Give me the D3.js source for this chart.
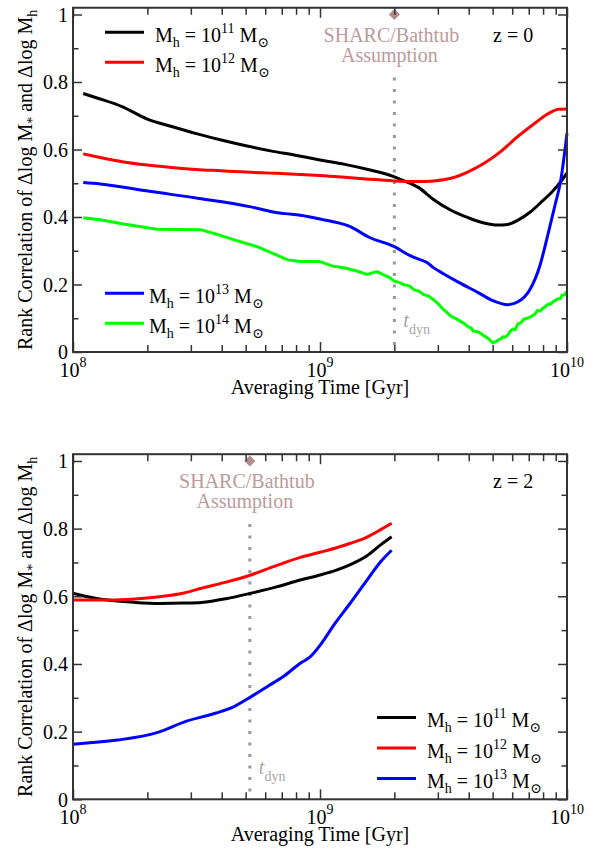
<!DOCTYPE html>
<html><head><meta charset="utf-8">
<script src="https://cdn.jsdelivr.net/npm/d3@7"></script>
<style>
body{margin:0;background:#fff}
svg{display:block}
</style>
</head><body>
<script>
// ---------------- DATA ----------------
const xTickMajor = [1e8, 1e9, 1e10];
const xTickExponents = ["8", "9", "10"];
const xTickMinor = [2e8,3e8,4e8,5e8,6e8,7e8,8e8,9e8,2e9,3e9,4e9,5e9,6e9,7e9,8e9,9e9];
const yTickMajor = [0, 0.2, 0.4, 0.6, 0.8, 1];
const yTickLabels = ["0", "0.2", "0.4", "0.6", "0.8", "1"];
const yTickMinor = [0.1, 0.3, 0.5, 0.7, 0.9];

const haloExponents = ["11", "12", "13", "14"];
const seriesColors = ["#000000", "#ff0000", "#0000ff", "#00ff00"];

// z = 0 : [averaging time (yr), rank correlation]
const z0_m11 = [[1.10e8,0.766],[1.26e8,0.752],[1.58e8,0.727],[2.00e8,0.690],[2.51e8,0.668],[3.16e8,0.647],[3.98e8,0.628],[5.01e8,0.611],[6.31e8,0.596],[7.94e8,0.583],[1.00e9,0.569],[1.26e9,0.556],[1.58e9,0.540],[2.00e9,0.519],[2.14e9,0.510],[2.51e9,0.487],[2.88e9,0.452],[3.39e9,0.420],[3.98e9,0.398],[4.57e9,0.383],[5.25e9,0.376],[5.75e9,0.378],[6.31e9,0.390],[7.08e9,0.414],[7.94e9,0.447],[8.71e9,0.475],[9.33e9,0.500],[1.00e10,0.530]];
const z0_m12 = [[1.10e8,0.587],[1.26e8,0.578],[1.58e8,0.564],[2.00e8,0.554],[2.51e8,0.547],[3.16e8,0.541],[3.98e8,0.537],[5.01e8,0.533],[6.31e8,0.530],[7.94e8,0.527],[1.00e9,0.523],[1.26e9,0.518],[1.58e9,0.512],[2.00e9,0.507],[2.51e9,0.505],[2.88e9,0.507],[3.39e9,0.515],[3.98e9,0.534],[4.62e9,0.559],[5.37e9,0.593],[6.31e9,0.638],[7.41e9,0.678],[8.61e9,0.711],[9.23e9,0.719],[1.00e10,0.720]];
const z0_m13 = [[1.10e8,0.502],[1.29e8,0.498],[2.04e8,0.476],[3.24e8,0.455],[5.25e8,0.430],[6.46e8,0.415],[7.24e8,0.410],[8.32e8,0.405],[1.00e9,0.394],[1.32e9,0.372],[1.58e9,0.340],[2.00e9,0.312],[2.34e9,0.284],[2.51e9,0.275],[2.70e9,0.266],[2.88e9,0.250],[3.16e9,0.232],[3.63e9,0.207],[4.37e9,0.176],[5.01e9,0.152],[5.75e9,0.140],[6.31e9,0.148],[7.08e9,0.185],[7.76e9,0.255],[8.32e9,0.340],[8.91e9,0.430],[9.44e9,0.510],[1.00e10,0.648]];
const z0_m14 = [[1.10e8,0.398],[1.29e8,0.392],[1.58e8,0.380],[2.19e8,0.364],[3.31e8,0.362],[3.98e8,0.345],[4.47e8,0.333],[5.56e8,0.312],[6.31e8,0.295],[7.41e8,0.273],[8.32e8,0.268],[1.00e9,0.268],[1.12e9,0.255],[1.26e9,0.249],[1.41e9,0.240],[1.55e9,0.230],[1.70e9,0.238],[1.82e9,0.228],[1.90e9,0.222],[2.00e9,0.210],[2.10e9,0.206],[2.19e9,0.199],[2.30e9,0.196],[2.40e9,0.185],[2.52e9,0.180],[2.63e9,0.170],[2.75e9,0.166],[2.88e9,0.155],[3.00e9,0.144],[3.16e9,0.126],[3.28e9,0.116],[3.39e9,0.106],[3.55e9,0.099],[3.72e9,0.090],[3.85e9,0.084],[3.98e9,0.074],[4.08e9,0.072],[4.17e9,0.062],[4.37e9,0.060],[4.47e9,0.055],[4.57e9,0.050],[4.80e9,0.040],[5.01e9,0.027],[5.13e9,0.030],[5.25e9,0.035],[5.38e9,0.038],[5.50e9,0.045],[5.62e9,0.044],[5.75e9,0.050],[5.90e9,0.062],[6.03e9,0.068],[6.17e9,0.066],[6.31e9,0.082],[6.53e9,0.088],[6.70e9,0.098],[6.92e9,0.100],[7.15e9,0.105],[7.41e9,0.112],[7.60e9,0.123],[7.80e9,0.121],[7.94e9,0.128],[8.15e9,0.134],[8.32e9,0.140],[8.60e9,0.143],[8.91e9,0.152],[9.20e9,0.158],[9.40e9,0.158],[9.55e9,0.168],[9.80e9,0.170],[1.00e10,0.180]];

// z = 2
const z2_m11 = [[1.00e8,0.609],[1.12e8,0.600],[1.41e8,0.588],[1.78e8,0.582],[2.24e8,0.579],[2.82e8,0.580],[3.31e8,0.582],[4.17e8,0.593],[5.25e8,0.609],[6.61e8,0.627],[8.32e8,0.648],[1.00e9,0.663],[1.15e9,0.676],[1.32e9,0.693],[1.55e9,0.720],[1.76e9,0.752],[1.95e9,0.776]];
const z2_m12 = [[1.00e8,0.589],[1.41e8,0.589],[1.78e8,0.592],[2.24e8,0.599],[2.82e8,0.610],[3.31e8,0.624],[4.17e8,0.642],[5.25e8,0.663],[6.61e8,0.690],[8.32e8,0.715],[1.00e9,0.730],[1.15e9,0.742],[1.32e9,0.756],[1.55e9,0.775],[1.76e9,0.797],[1.95e9,0.816]];
const z2_m13 = [[1.00e8,0.163],[1.51e8,0.175],[2.19e8,0.197],[2.88e8,0.231],[3.80e8,0.255],[4.37e8,0.270],[5.25e8,0.303],[6.17e8,0.335],[7.08e8,0.362],[8.32e8,0.402],[9.12e8,0.421],[1.00e9,0.455],[1.15e9,0.520],[1.32e9,0.578],[1.55e9,0.648],[1.76e9,0.702],[1.95e9,0.736]];

const tDyn = [2.0e9, 5.2e8];
const bathtubValue = 1.0;
const redshiftLabels = ["z = 0", "z = 2"];

// ---------------- DRAW ----------------
const FONT = '"Liberation Serif", "Times New Roman", Times, "DejaVu Serif", serif';
const W = 605, H = 853;
const svg = d3.select("body").append("svg").attr("width", W).attr("height", H)
  .attr("font-family", FONT).style("font-family", FONT);

const left = 73, right = 567;
const x = d3.scaleLog().domain([1e8, 1e10]).range([left, right]);

const panels = [
  {bottom: 352, top: 7.75, series: [z0_m11, z0_m12, z0_m13, z0_m14], tdyn: tDyn[0], z: redshiftLabels[0],
   legends: [{x0:105, x1:144, tx:155, ys:[32.3, 62.3], idx:[0,1]}, {x0:105, x1:144, tx:149, ys:[293.3, 323.3], idx:[2,3]}]},
  {bottom: 799.3, top: 454.2, series: [z2_m11, z2_m12, z2_m13], tdyn: tDyn[1], z: redshiftLabels[1],
   legends: [{x0:377, x1:416, tx:427, ys:[717.5, 748, 778.5], idx:[0,1,2]}]}
];

const frameColor = "#333";

function txt(g) {
  return g.append("text").attr("font-family", FONT).style("font-family", FONT);
}

function legendLabel(g, tx, y, exp) {
  const t = txt(g).attr("x", tx).attr("y", y).attr("font-size", 20).attr("fill", "#000");
  t.append("tspan").text("M");
  t.append("tspan").attr("font-size", 14).attr("dy", 5).text("h");
  t.append("tspan").attr("dy", -5).text(" = 10");
  t.append("tspan").attr("font-size", 14).attr("dy", -9).text(exp);
  t.append("tspan").attr("dy", 9).text(" M");
  t.append("tspan").attr("font-size", 14).attr("dy", 5).text("\u2299");
}

panels.forEach((p, pi) => {
  const y = d3.scaleLinear().domain([0, 1.02]).range([p.bottom, p.top]);
  const g = svg.append("g");

  // dotted t_dyn line
  const xd = x(p.tdyn);
  g.append("line").attr("x1", xd).attr("x2", xd)
    .attr("y1", y(bathtubValue) + 63).attr("y2", p.bottom)
    .attr("stroke", "#999").attr("stroke-width", 3).attr("stroke-dasharray", "3,8.5");

  // diamond marker
  g.append("path").attr("d", d3.symbol(d3.symbolSquare, 62)())
    .attr("transform", `translate(${xd},${y(bathtubValue)}) rotate(45)`)
    .attr("fill", "#b38b8b");

  // SHARC / Bathtub text
  txt(g).attr("x", xd - 3).attr("y", y(bathtubValue) + 27.5).attr("text-anchor", "middle")
    .attr("font-size", 20).attr("fill", "#bd9a9a").text("SHARC/Bathtub");
  txt(g).attr("x", xd - 5).attr("y", y(bathtubValue) + 47.5).attr("text-anchor", "middle")
    .attr("font-size", 20).attr("fill", "#bd9a9a").text("Assumption");

  // t_dyn label
  const td = txt(g).attr("x", xd + 9).attr("y", p.bottom - 25.5).attr("font-size", 20).attr("fill", "#a6a6a6");
  td.append("tspan").attr("font-style", "italic").text("t");
  td.append("tspan").attr("font-size", 14).attr("dy", 7).text("dyn");

  // series
  const line = d3.line().x(d => x(d[0])).y(d => y(d[1]));
  p.series.forEach((s, i) => {
    g.append("path").datum(s)
      .attr("d", line.curve(i === 3 ? d3.curveLinear : d3.curveMonotoneX))
      .attr("fill", "none").attr("stroke", seriesColors[i]).attr("stroke-width", 3)
      .attr("stroke-linejoin", "round");
  });

  // axes ticks (inward)
  const styleAxis = sel => {
    sel.select(".domain").remove();
    sel.selectAll(".tick line").attr("stroke", frameColor).attr("stroke-width", 1.5);
  };
  g.append("g").attr("transform", `translate(0,${p.bottom})`)
    .call(d3.axisBottom(x).tickValues(xTickMinor).tickSize(-7).tickFormat("")).call(styleAxis);
  g.append("g").attr("transform", `translate(0,${p.bottom})`)
    .call(d3.axisBottom(x).tickValues(xTickMajor).tickSize(-10).tickFormat("")).call(styleAxis);
  g.append("g").attr("transform", `translate(0,${p.top})`)
    .call(d3.axisTop(x).tickValues(xTickMinor).tickSize(-7).tickFormat("")).call(styleAxis);
  g.append("g").attr("transform", `translate(0,${p.top})`)
    .call(d3.axisTop(x).tickValues(xTickMajor).tickSize(-10).tickFormat("")).call(styleAxis);

  const yl = g.append("g").attr("transform", `translate(${left},0)`)
    .call(d3.axisLeft(y).tickValues(yTickMajor).tickSize(-9).tickPadding(5)
      .tickFormat((d, i) => yTickLabels[i])).call(styleAxis);
  yl.attr("font-family", FONT).attr("font-size", 20);
  yl.selectAll("text").attr("font-size", 20).attr("font-family", FONT).style("font-family", FONT)
    .attr("fill", "#000").attr("dy", "0.34em");
  g.append("g").attr("transform", `translate(${left},0)`)
    .call(d3.axisLeft(y).tickValues(yTickMinor).tickSize(-5.5).tickFormat("")).call(styleAxis);
  g.append("g").attr("transform", `translate(${right},0)`)
    .call(d3.axisRight(y).tickValues(yTickMajor).tickSize(-9).tickFormat("")).call(styleAxis);
  g.append("g").attr("transform", `translate(${right},0)`)
    .call(d3.axisRight(y).tickValues(yTickMinor).tickSize(-5.5).tickFormat("")).call(styleAxis);

  // x tick labels 10^n
  xTickMajor.forEach((v, i) => {
    const t = txt(g).attr("x", x(v)).attr("y", p.bottom + 25)
      .attr("text-anchor", "middle").attr("font-size", 20).attr("fill", "#000");
    t.append("tspan").text("10");
    t.append("tspan").attr("font-size", 14).attr("dy", -10).text(xTickExponents[i]);
  });

  // frame
  g.append("rect").attr("x", left).attr("y", p.top).attr("width", right - left).attr("height", p.bottom - p.top)
    .attr("fill", "none").attr("stroke", frameColor).attr("stroke-width", 2);

  // axis titles
  txt(g).attr("x", (left + right) / 2).attr("y", p.bottom + 41.5)
    .attr("text-anchor", "middle").attr("font-size", 20).text("Averaging Time [Gyr]");

  const yc = (p.top + p.bottom) / 2;
  const yt = txt(g).attr("transform", `translate(31.5,${yc}) rotate(-90)`)
    .attr("text-anchor", "middle").attr("font-size", 20).attr("fill", "#000");
  yt.append("tspan").text("Rank Correlation of \u0394log M");
  yt.append("tspan").attr("font-size", 14).attr("dy", 5).text("*");
  yt.append("tspan").attr("dy", -5).text(" and \u0394log M");
  yt.append("tspan").attr("font-size", 14).attr("dy", 5).text("h");

  // redshift label
  txt(g).attr("x", 493).attr("y", p.top + 34).attr("font-size", 20).text(p.z);

  // legends
  p.legends.forEach(L => {
    L.idx.forEach((si, k) => {
      g.append("line").attr("x1", L.x0).attr("x2", L.x1).attr("y1", L.ys[k]).attr("y2", L.ys[k])
        .attr("stroke", seriesColors[si]).attr("stroke-width", 3);
      legendLabel(g, L.tx, L.ys[k] + 9.5, haloExponents[si]);
    });
  });
});
</script>
</body></html>
